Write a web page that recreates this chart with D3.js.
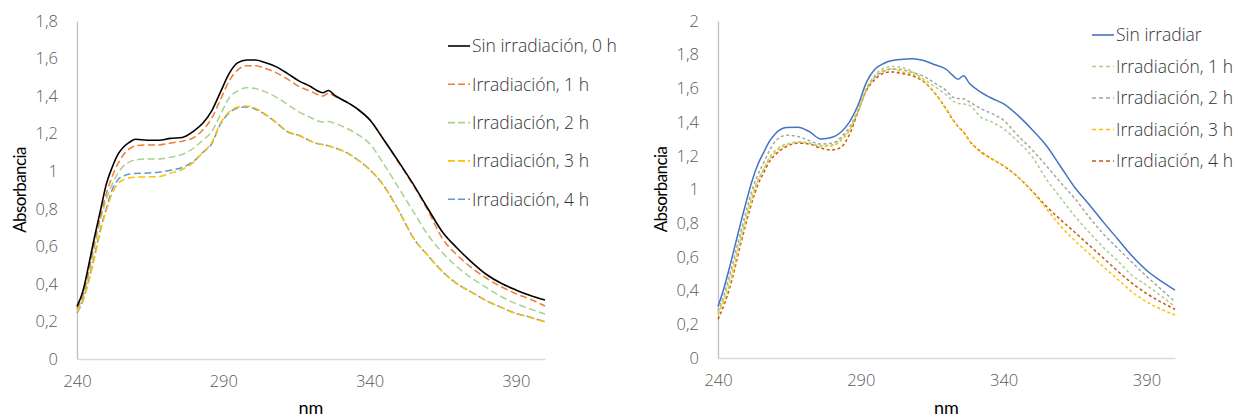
<!DOCTYPE html>
<html><head><meta charset="utf-8">
<script src="https://cdn.jsdelivr.net/npm/d3@7"></script>
<style>
body{margin:0;background:#fff}
svg{display:block}
text{font-family:"Open Sans",Lato,sans-serif}
.lt{font-weight:300}
</style>
</head><body>
<svg id="c" width="1237" height="419"></svg>
<script>
// ---------- data ----------
const wavelengths = [240,242,244,246,248,250,252,254,256,258,260,264,268,272,276,280,283,286,289,292,295,298,301,304,308,312,316,320,322,324,326,328,332,336,340,345,350,355,360,365,370,375,380,385,390,395,400];
const xTicks = [240,290,340,390];
const yTicksLeft = [0,0.2,0.4,0.6,0.8,1,1.2,1.4,1.6,1.8];
const yTicksRight = [0,0.2,0.4,0.6,0.8,1,1.2,1.4,1.6,1.8,2];
const xTitle = "nm";
const yTitle = "Absorbancia";

// left chart
const leftNames = ["Sin irradiación, 0 h","Irradiación, 1 h","Irradiación, 2 h","Irradiación, 3 h","Irradiación, 4 h"];
const leftSin0h = [0.28,0.36,0.50,0.65,0.79,0.93,1.02,1.09,1.13,1.155,1.17,1.165,1.165,1.175,1.18,1.215,1.255,1.32,1.42,1.52,1.578,1.592,1.592,1.58,1.557,1.52,1.48,1.45,1.43,1.418,1.43,1.405,1.37,1.33,1.275,1.165,1.05,0.93,0.80,0.675,0.59,0.515,0.45,0.403,0.368,0.338,0.314];
const leftIrr1h = [0.27,0.34,0.47,0.62,0.76,0.88,0.97,1.04,1.09,1.12,1.135,1.14,1.14,1.15,1.16,1.18,1.22,1.28,1.38,1.48,1.54,1.562,1.562,1.55,1.525,1.49,1.45,1.425,1.41,1.40,1.415,1.40,1.37,1.33,1.275,1.165,1.045,0.925,0.79,0.64,0.553,0.485,0.43,0.385,0.348,0.318,0.282];
const leftIrr2h = [0.26,0.33,0.45,0.60,0.74,0.85,0.93,0.99,1.03,1.05,1.06,1.065,1.065,1.075,1.09,1.125,1.165,1.21,1.30,1.39,1.428,1.445,1.44,1.425,1.395,1.355,1.315,1.285,1.27,1.262,1.265,1.255,1.23,1.195,1.148,1.035,0.91,0.785,0.66,0.565,0.49,0.43,0.38,0.333,0.295,0.266,0.24];
const leftIrr3h = [0.25,0.31,0.41,0.54,0.68,0.79,0.88,0.935,0.955,0.965,0.968,0.97,0.972,0.99,1.01,1.05,1.10,1.15,1.255,1.315,1.342,1.348,1.335,1.308,1.262,1.212,1.19,1.16,1.148,1.142,1.135,1.125,1.10,1.06,1.01,0.92,0.79,0.645,0.55,0.465,0.40,0.355,0.31,0.275,0.243,0.222,0.198];
const leftIrr4h = [0.245,0.31,0.42,0.55,0.69,0.80,0.90,0.955,0.975,0.985,0.988,0.99,0.995,1.005,1.02,1.055,1.10,1.145,1.25,1.31,1.337,1.342,1.33,1.305,1.26,1.21,1.19,1.16,1.148,1.142,1.135,1.125,1.10,1.06,1.01,0.92,0.79,0.645,0.55,0.465,0.40,0.355,0.31,0.275,0.243,0.222,0.198];

// right chart
const rightNames = ["Sin irradiar","Irradiación, 1 h","Irradiación, 2 h","Irradiación, 3 h","Irradiación, 4 h"];
const rightSin = [0.306,0.41,0.535,0.67,0.805,0.935,1.055,1.15,1.22,1.285,1.33,1.368,1.37,1.343,1.30,1.31,1.34,1.40,1.50,1.637,1.715,1.748,1.765,1.772,1.776,1.765,1.74,1.712,1.68,1.655,1.675,1.63,1.578,1.54,1.508,1.44,1.355,1.26,1.135,1.01,0.91,0.805,0.705,0.605,0.521,0.458,0.403];
const rightIrr1h = [0.27,0.35,0.46,0.59,0.72,0.85,0.97,1.06,1.12,1.19,1.23,1.27,1.282,1.275,1.26,1.265,1.30,1.36,1.47,1.60,1.68,1.72,1.73,1.725,1.70,1.655,1.61,1.56,1.53,1.51,1.508,1.50,1.43,1.40,1.36,1.285,1.195,1.06,0.95,0.84,0.745,0.655,0.575,0.49,0.432,0.37,0.305];
const rightIrr2h = [0.28,0.37,0.49,0.62,0.75,0.88,1.0,1.09,1.16,1.23,1.285,1.322,1.315,1.29,1.27,1.275,1.31,1.37,1.47,1.60,1.67,1.70,1.715,1.712,1.695,1.672,1.63,1.585,1.55,1.54,1.538,1.52,1.48,1.45,1.41,1.32,1.235,1.14,1.04,0.945,0.835,0.735,0.65,0.567,0.485,0.41,0.334];
const rightIrr3h = [0.26,0.33,0.43,0.56,0.70,0.83,0.95,1.05,1.12,1.18,1.22,1.265,1.28,1.275,1.255,1.26,1.29,1.35,1.46,1.59,1.67,1.708,1.715,1.70,1.685,1.645,1.57,1.475,1.42,1.375,1.34,1.29,1.22,1.18,1.14,1.075,0.99,0.885,0.782,0.695,0.618,0.54,0.467,0.392,0.334,0.29,0.255];
const rightIrr4h = [0.23,0.31,0.41,0.54,0.68,0.81,0.93,1.03,1.10,1.165,1.205,1.255,1.275,1.27,1.245,1.235,1.25,1.325,1.46,1.588,1.655,1.69,1.698,1.69,1.675,1.64,1.57,1.475,1.42,1.375,1.34,1.29,1.225,1.18,1.14,1.075,0.99,0.9,0.82,0.745,0.668,0.592,0.515,0.443,0.383,0.333,0.289];

// ---------- drawing ----------
const loc = d3.formatLocale({decimal:",", thousands:".", grouping:[3], currency:["","€"]});
const fmt = loc.format(".1~f");
const svg = d3.select("#c");
const defs = svg.append("defs");

const charts = [
  {id:"L", clipX:0, clipW:617, x0:77, x1:545, y0:21, y1:359, yMax:1.8, yTicks:yTicksLeft, titleX:20,
   names:leftNames, values:[leftSin0h,leftIrr1h,leftIrr2h,leftIrr3h,leftIrr4h],
   colors:["#000000","#ED7D31","#A9D18E","#FFC000","#5B9BD5"],
   dashes:[null,"7,3.5","7,3.5","7,3.5","7,3.5"], widths:[1.6,1.5,1.5,1.5,1.5],
   legX:448, legY:46, legDy:38.3, legLen:22, legDash:"7,3"},
  {id:"R", clipX:620, clipW:617, x0:718, x1:1175, y0:21, y1:358, yMax:2, yTicks:yTicksRight, titleX:661,
   names:rightNames, values:[rightSin,rightIrr1h,rightIrr2h,rightIrr3h,rightIrr4h],
   colors:["#4472C4","#A9D18E","#A5A5A5","#FFC000","#C55A11"],
   dashes:[null,"3,2.5","3,2.5","3,2.5","3,2.5"], widths:[1.5,1.5,1.5,1.5,1.5],
   legX:1092, legY:35, legDy:31.5, legLen:22, legDash:"4,3"}
];

charts.forEach(c => {
  defs.append("clipPath").attr("id","clip"+c.id).append("rect")
    .attr("x", c.clipX).attr("y",0).attr("width", c.clipW).attr("height",419);
  const g = svg.append("g").attr("clip-path","url(#clip"+c.id+")");
  const x = d3.scaleLinear().domain([240,400]).range([c.x0,c.x1]);
  const y = d3.scaleLinear().domain([0,c.yMax]).range([c.y1,c.y0]);

  // axes
  const ya = g.append("g").attr("transform",`translate(${c.x0},0)`)
    .call(d3.axisLeft(y).tickValues(c.yTicks).tickFormat(fmt).tickSize(0).tickPadding(19));
  ya.select(".domain").attr("stroke","#BFBFBF").attr("stroke-width",1.3);
  ya.selectAll("text").attr("class","lt").attr("font-size",16.5).attr("fill","#595959").style("font-family","'Open Sans'");
  const xa = g.append("g").attr("transform",`translate(0,${c.y1})`)
    .call(d3.axisBottom(x).tickValues(xTicks).tickFormat(d3.format("d")).tickSize(0).tickPadding(16));
  xa.select(".domain").attr("stroke","#D9D9D9").attr("stroke-width",1.3);
  xa.selectAll("text").attr("class","lt").attr("font-size",16.5).attr("fill","#595959").style("font-family","'Open Sans'");

  // titles
  g.append("text").attr("x",(c.x0+c.x1)/2).attr("y",414).attr("text-anchor","middle")
    .attr("font-size",18).attr("fill","#000").style("font-family","Lato").text(xTitle);
  g.append("text").attr("transform",`translate(${c.titleX},${(c.y0+c.y1)/2}) rotate(-90)`)
    .attr("text-anchor","middle").attr("dy","0.35em").attr("font-size",17).attr("fill","#000")
    .style("font-family","Lato").attr("letter-spacing","-0.6").text(yTitle);

  // lines (draw in reverse so first series on top)
  const line = d3.line().x((d,i)=>x(wavelengths[i])).y(d=>y(d)).curve(d3.curveMonotoneX);
  const order = c.values.map((v,i)=>i).reverse();
  order.forEach(i => {
    g.append("path").datum(c.values[i]).attr("d",line).attr("fill","none")
      .attr("stroke",c.colors[i]).attr("stroke-width",c.widths[i])
      .attr("stroke-dasharray",c.dashes[i]);
  });

  // legend
  c.names.forEach((n,i) => {
    const ly = c.legY + i*c.legDy;
    g.append("line").attr("x1",c.legX).attr("x2",c.legX+c.legLen).attr("y1",ly).attr("y2",ly)
      .attr("stroke",c.colors[i]).attr("stroke-width",1.6)
      .attr("stroke-dasharray", i===0?null:c.legDash);
    g.append("text").attr("class","lt").attr("x",c.legX+c.legLen+2).attr("y",ly).attr("dy","0.36em")
      .attr("font-size",17.5).attr("fill","#333333").text(n);
  });
});
</script>
</body></html>
